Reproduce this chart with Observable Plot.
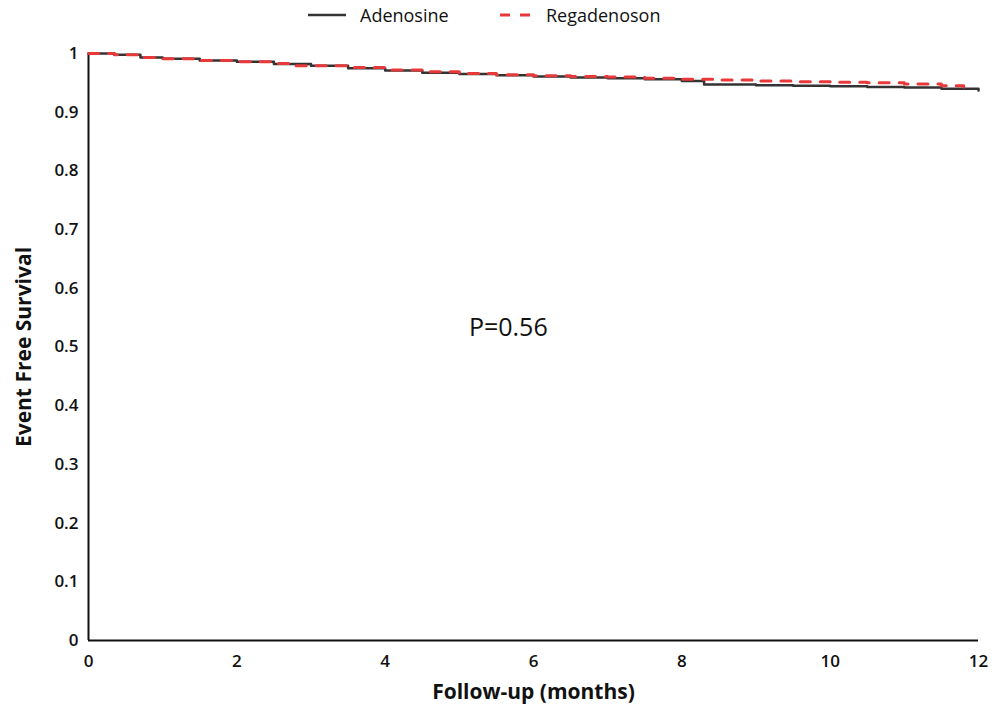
<!DOCTYPE html>
<html>
<head>
<meta charset="utf-8">
<script src="https://cdn.jsdelivr.net/npm/d3@7"></script>
<script src="https://cdn.jsdelivr.net/npm/@observablehq/plot@0.6"></script>
<style>
  body { margin: 0; background: #fff; font-family: "Open Sans", Lato, sans-serif; }
  #legend { height: 35px; position: relative; font-size: 18px; font-weight: 500; color: #111; }
  .item { position: absolute; top: 3px; display: flex; align-items: center; }
  .item svg { margin-right: 14px; }
</style>
</head>
<body>
<div id="legend">
  <div class="item" style="left:308px;"><svg width="38" height="10"><line x1="0" y1="5" x2="38" y2="5" stroke="#333" stroke-width="2.5"/></svg><span>Adenosine</span></div>
  <div class="item" style="left:500px;"><svg width="32" height="10"><line x1="0" y1="5" x2="32" y2="5" stroke="#e8393a" stroke-width="3" stroke-dasharray="10,10"/></svg><span>Regadenoson</span></div>
</div>
<div id="chart"></div>
<script>
const adenosineMonths = [0, 0.35, 0.7, 1.0, 1.5, 2.0, 2.5, 3.0, 3.5, 4.0, 4.5, 5.0, 5.5, 6.0, 6.5, 7.0, 7.5, 8.0, 8.3, 9.0, 9.5, 10.0, 10.5, 11.0, 11.5, 12.0];
const adenosineSurv   = [1.0, 0.998, 0.993, 0.991, 0.988, 0.986, 0.982, 0.979, 0.975, 0.971, 0.967, 0.965, 0.963, 0.961, 0.959, 0.958, 0.956, 0.953, 0.947, 0.946, 0.945, 0.944, 0.943, 0.942, 0.940, 0.937];
const regadenosonMonths = [0, 0.35, 0.7, 1.0, 1.5, 2.0, 2.5, 2.8, 3.5, 4.0, 4.5, 5.0, 5.5, 6.0, 6.5, 7.0, 7.5, 8.0, 8.5, 9.0, 9.5, 10.0, 10.5, 11.0, 11.5, 11.8];
const regadenosonSurv   = [1.0, 0.998, 0.993, 0.991, 0.988, 0.986, 0.983, 0.979, 0.976, 0.972, 0.969, 0.966, 0.964, 0.962, 0.961, 0.960, 0.958, 0.956, 0.955, 0.953, 0.952, 0.951, 0.950, 0.948, 0.945, 0.943];
const xTicks = [0, 2, 4, 6, 8, 10, 12];
const yTicks = [0, 0.1, 0.2, 0.3, 0.4, 0.5, 0.6, 0.7, 0.8, 0.9, 1];
const pLabel = [{x: 5.66, y: 0.533, text: "P=0.56"}];

const adenosine = adenosineMonths.map((m, i) => ({month: m, surv: adenosineSurv[i]}));
const regadenoson = regadenosonMonths.map((m, i) => ({month: m, surv: regadenosonSurv[i]}));

const chart = Plot.plot({
  width: 996,
  height: 677,
  marginLeft: 88,
  marginRight: 18,
  marginTop: 18,
  marginBottom: 72,
  style: {fontFamily: "'Open Sans', Lato, sans-serif", color: "#111"},
  x: {domain: [0, 12], ticks: xTicks},
  y: {domain: [0, 1], ticks: yTicks},
  marks: [
    Plot.axisY({ticks: yTicks, tickSize: 0, tickPadding: 10, fontSize: 17, fontWeight: 600,
      tickFormat: d => (d === 0 || d === 1) ? String(d) : d.toFixed(1),
      label: "Event Free Survival", labelAnchor: "center", labelArrow: "none", labelOffset: 72}),
    Plot.axisX({ticks: xTicks, tickSize: 0, tickPadding: 14, fontSize: 17, fontWeight: 600,
      label: "Follow-up (months)", labelAnchor: "center", labelArrow: "none", labelOffset: 58}),
    Plot.ruleX([0], {stroke: "#111", strokeWidth: 2}),
    Plot.ruleY([0], {stroke: "#111", strokeWidth: 2}),
    Plot.line(adenosine, {x: "month", y: "surv", curve: "step-after", stroke: "#333", strokeWidth: 2.5}),
    Plot.line(regadenoson, {x: "month", y: "surv", curve: "step-after", stroke: "#e8393a", strokeWidth: 3, strokeDasharray: "10,10"}),
    Plot.text(pLabel, {x: "x", y: "y", text: "text", fontSize: 25, fill: "#111"})
  ]
});
chart.querySelectorAll("[aria-label='y-axis label'] text, [aria-label='x-axis label'] text").forEach(t => {
  t.setAttribute("font-size", "21");
  t.setAttribute("font-weight", "bold");
});
document.getElementById("chart").appendChild(chart);
</script>
</body>
</html>
